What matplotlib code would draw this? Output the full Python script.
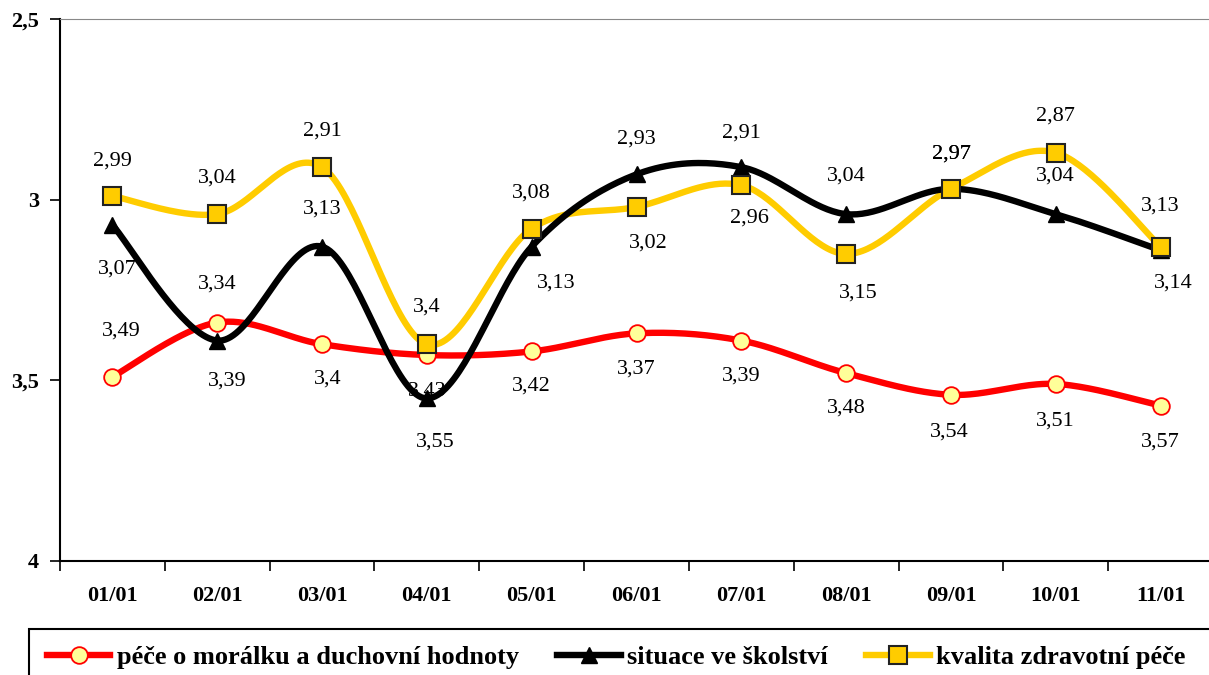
import matplotlib
matplotlib.use('Agg')
import matplotlib.pyplot as plt
from matplotlib.patches import Rectangle
import numpy as np

plt.rcParams['font.family'] = ['Liberation Serif', 'DejaVu Serif']

months = ['01/01', '02/01', '03/01', '04/01', '05/01', '06/01',
          '07/01', '08/01', '09/01', '10/01', '11/01']
moralka = [3.49, 3.34, 3.40, 3.43, 3.42, 3.37, 3.39, 3.48, 3.54, 3.51, 3.57]
skolstvi = [3.07, 3.39, 3.13, 3.55, 3.13, 2.93, 2.91, 3.04, 2.97, 3.04, 3.14]
zdravotnictvi = [2.99, 3.04, 2.91, 3.40, 3.08, 3.02, 2.96, 3.15, 2.97, 2.87, 3.13]
names = ['péče o morálku a duchovní hodnoty', 'situace ve školství',
         'kvalita zdravotní péče']

# label placement per point: (dx, dy) in pixels, dy>0 means up
lab_moralka = [(9, 46), (0, 38), (6, -35), (0, -36), (0, -35), (0, -36),
               (0, -35), (0, -35), (-2, -37), (0, -37), (0, -36)]
lab_skolstvi = [(5, -44), (10, -40), (0, 38), (8, -44), (25, -36), (0, 35),
                (0, 34), (0, 38), (0, 35), (0, 38), (13, -33)]
lab_zdrav = [(0, 35), (0, 36), (0, 36), (0, 37), (0, 36), (12, -36),
             (8, -33), (12, -39), (0, 35), (0, 37), (0, 41)]


def smooth(x, y, n=40):
    # bezier smoothing similar to excel "smoothed line"
    pts = np.column_stack([x, y]).astype(float)
    p = np.vstack([pts[0], pts, pts[-1]])
    out = []
    t = np.linspace(0, 1, n)[:, None]
    for i in range(1, len(p) - 2):
        p0, p1, p2, p3 = p[i - 1], p[i], p[i + 1], p[i + 2]
        c1 = p1 + (p2 - p0) / 6
        c2 = p2 - (p3 - p1) / 6
        seg = (1 - t)**3 * p1 + 3 * (1 - t)**2 * t * c1 + 3 * (1 - t) * t**2 * c2 + t**3 * p2
        out.append(seg)
    s = np.vstack(out)
    return s[:, 0], s[:, 1]


fig = plt.figure(figsize=(12.09, 6.75), dpi=100)
ax = fig.add_axes([60 / 1209, 114 / 675, 1153 / 1209, 542 / 675])

x = np.arange(len(months))
styles = [
    dict(data=moralka, lab=lab_moralka, color='#FF0000', marker='o', ms=12,
         mfc='#FFFF99', mec='#FF0000', mew=1.3, lz=2.1),
    dict(data=skolstvi, lab=lab_skolstvi, color='#000000', marker='^', ms=11,
         mfc='#000000', mec='#000000', mew=1, lz=2.3),
    dict(data=zdravotnictvi, lab=lab_zdrav, color='#FFCC00', marker='s', ms=13,
         mfc='#FFCC00', mec='#222222', mew=1.5, lz=2.2),
]

handles = []
for i, st in enumerate(styles):
    sx, sy = smooth(x, st['data'])
    ax.plot(sx, sy, color=st['color'], lw=4.6, zorder=st['lz'],
            solid_capstyle='round')
    ax.plot(x, st['data'], ls='none', marker=st['marker'], ms=st['ms'],
            mfc=st['mfc'], mec=st['mec'], mew=st['mew'], zorder=3 + i * 0.1)
    h, = ax.plot([], [], color=st['color'], lw=4.6, marker=st['marker'],
                 ms=st['ms'], mfc=st['mfc'], mec=st['mec'], mew=st['mew'])
    handles.append(h)
    for xi, v, (dx, dy) in zip(x, st['data'], st['lab']):
        txt = ('%g' % v).replace('.', ',')
        ax.annotate(txt, (xi, v), xytext=(dx, dy), textcoords='offset pixels',
                    ha='center', va='center', fontsize=16, color='black',
                    zorder=1.5)

ax.set_xlim(-0.5, len(months) - 0.5)
ax.set_ylim(4, 2.5)
ax.set_yticks([2.5, 3, 3.5, 4])
ax.set_yticklabels(['2,5', '3', '3,5', '4'], fontsize=16, fontweight='bold')
ax.set_xticks(x)
ax.set_xticklabels(months, fontsize=16, fontweight='bold')
ax.set_xticks(np.arange(len(months) + 1) - 0.5, minor=True)
ax.tick_params(axis='x', which='major', length=0, pad=18)
ax.tick_params(axis='x', which='minor', length=7, width=1.2, direction='out')
ax.tick_params(axis='y', length=7, width=1.2, pad=8)

ax.spines['right'].set_visible(False)
ax.spines['top'].set_color('#888888')
ax.spines['left'].set_linewidth(1.5)
ax.spines['bottom'].set_linewidth(1.5)

# legend box runs off the right and bottom edge like in the source
fig.add_artist(Rectangle((29 / 1209, -0.05), 1.0, (675 - 629) / 675 + 0.05,
                         transform=fig.transFigure, fill=False,
                         edgecolor='black', lw=1.5))
leg = fig.legend(handles, names, loc='center left',
                 bbox_to_anchor=(47 / 1209, 1 - 657 / 675), ncol=3,
                 prop=dict(family='Liberation Serif', weight='bold', size=19),
                 frameon=False, handlelength=2.4, handletextpad=0.25,
                 columnspacing=1.45, borderpad=0, borderaxespad=0)

fig.savefig('out.png', dpi=100)
